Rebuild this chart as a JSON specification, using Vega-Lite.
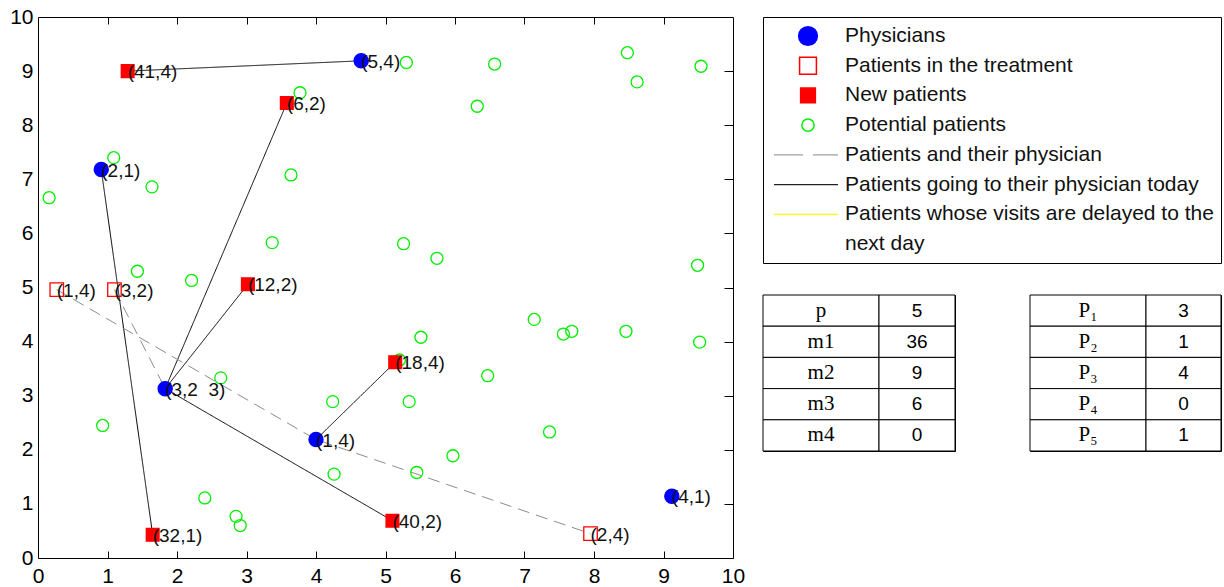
{
  "$schema": "https://vega.github.io/schema/vega-lite/v6.json",
  "padding": {"left": 9, "top": 5, "right": 0, "bottom": 0},
  "background": "white",
  "config": {
    "view": {"stroke": "black", "strokeWidth": 1},
    "font": "Liberation Sans",
    "text": {"font": "Liberation Sans", "color": "black"}
  },
  "datasets": {
    "links": [
      {"seg": "a", "kind": "today", "x": 1.29, "y": 9.00}, {"seg": "a", "kind": "today", "x": 4.65, "y": 9.19},
      {"seg": "b", "kind": "today", "x": 3.58, "y": 8.41}, {"seg": "b", "kind": "today", "x": 1.83, "y": 3.13},
      {"seg": "c", "kind": "today", "x": 3.02, "y": 5.06}, {"seg": "c", "kind": "today", "x": 1.83, "y": 3.13},
      {"seg": "d", "kind": "today", "x": 5.10, "y": 0.69}, {"seg": "d", "kind": "today", "x": 1.83, "y": 3.13},
      {"seg": "e", "kind": "today", "x": 5.14, "y": 3.62}, {"seg": "e", "kind": "today", "x": 4.00, "y": 2.19},
      {"seg": "f", "kind": "today", "x": 1.65, "y": 0.43}, {"seg": "f", "kind": "today", "x": 0.91, "y": 7.18},
      {"seg": "g", "kind": "home", "x": 0.27, "y": 4.96}, {"seg": "g", "kind": "home", "x": 4.00, "y": 2.19}, {"seg": "g", "kind": "home", "x": 7.95, "y": 0.45},
      {"seg": "h", "kind": "home", "x": 1.10, "y": 4.96}, {"seg": "h", "kind": "home", "x": 1.83, "y": 3.13}
    ],
    "pts": [
      {"group": "Potential", "x": 1.09, "y": 7.40}, {"group": "Potential", "x": 0.16, "y": 6.66},
      {"group": "Potential", "x": 1.64, "y": 6.86}, {"group": "Potential", "x": 3.77, "y": 8.60},
      {"group": "Potential", "x": 3.64, "y": 7.08}, {"group": "Potential", "x": 3.37, "y": 5.83},
      {"group": "Potential", "x": 5.26, "y": 5.81}, {"group": "Potential", "x": 5.30, "y": 9.16},
      {"group": "Potential", "x": 1.43, "y": 5.30}, {"group": "Potential", "x": 2.21, "y": 5.13},
      {"group": "Potential", "x": 6.57, "y": 9.13}, {"group": "Potential", "x": 6.32, "y": 8.35},
      {"group": "Potential", "x": 8.48, "y": 9.34}, {"group": "Potential", "x": 8.62, "y": 8.80},
      {"group": "Potential", "x": 9.54, "y": 9.09}, {"group": "Potential", "x": 5.74, "y": 5.54},
      {"group": "Potential", "x": 9.49, "y": 5.41}, {"group": "Potential", "x": 5.51, "y": 4.08},
      {"group": "Potential", "x": 2.63, "y": 3.33}, {"group": "Potential", "x": 5.20, "y": 3.66},
      {"group": "Potential", "x": 4.24, "y": 2.89}, {"group": "Potential", "x": 5.34, "y": 2.89},
      {"group": "Potential", "x": 0.93, "y": 2.45}, {"group": "Potential", "x": 4.26, "y": 1.55},
      {"group": "Potential", "x": 5.45, "y": 1.58}, {"group": "Potential", "x": 2.40, "y": 1.11},
      {"group": "Potential", "x": 2.85, "y": 0.77}, {"group": "Potential", "x": 2.91, "y": 0.60},
      {"group": "Potential", "x": 7.14, "y": 4.41}, {"group": "Potential", "x": 7.56, "y": 4.14},
      {"group": "Potential", "x": 7.68, "y": 4.19}, {"group": "Potential", "x": 8.46, "y": 4.19},
      {"group": "Potential", "x": 9.52, "y": 3.99}, {"group": "Potential", "x": 6.47, "y": 3.37},
      {"group": "Potential", "x": 7.36, "y": 2.33}, {"group": "Potential", "x": 5.97, "y": 1.89},
      {"group": "Treatment", "x": 0.27, "y": 4.96, "label": "(1,4)"},
      {"group": "Treatment", "x": 1.10, "y": 4.96, "label": "(3,2)"},
      {"group": "Treatment", "x": 7.95, "y": 0.45, "label": "(2,4)"},
      {"group": "New", "x": 1.29, "y": 9.00, "label": "(41,4)"},
      {"group": "New", "x": 3.58, "y": 8.41, "label": "(6,2)"},
      {"group": "New", "x": 3.02, "y": 5.06, "label": "(12,2)"},
      {"group": "New", "x": 5.14, "y": 3.62, "label": "(18,4)"},
      {"group": "New", "x": 5.10, "y": 0.69, "label": "(40,2)"},
      {"group": "New", "x": 1.65, "y": 0.43, "label": "(32,1)"},
      {"group": "Physicians", "x": 4.65, "y": 9.19, "label": "(5,4)"},
      {"group": "Physicians", "x": 0.91, "y": 7.18, "label": "(2,1)"},
      {"group": "Physicians", "x": 1.83, "y": 3.13, "label": "(3,2\u00a0\u00a03)"},
      {"group": "Physicians", "x": 4.00, "y": 2.19, "label": "(1,4)"},
      {"group": "Physicians", "x": 9.12, "y": 1.14, "label": "(4,1)"}
    ],
    "legend": [
      {"row": 0, "kind": "Physicians", "label": "Physicians"},
      {"row": 1, "kind": "Treatment", "label": "Patients in the treatment"},
      {"row": 2, "kind": "New", "label": "New patients"},
      {"row": 3, "kind": "Potential", "label": "Potential patients"},
      {"row": 4, "kind": "home", "label": "Patients and their physician"},
      {"row": 5, "kind": "today", "label": "Patients going to their physician today"},
      {"row": 6, "kind": "delayed", "label": "Patients whose visits are delayed to the"},
      {"row": 7, "kind": "none", "label": "next day"}
    ],
    "tbl": [
      {"r": 1, "a": "p", "av": "5", "b": "P₁", "bv": "3"},
      {"r": 2, "a": "m1", "av": "36", "b": "P₂", "bv": "1"},
      {"r": 3, "a": "m2", "av": "9", "b": "P₃", "bv": "4"},
      {"r": 4, "a": "m3", "av": "6", "b": "P₄", "bv": "0"},
      {"r": 5, "a": "m4", "av": "0", "b": "P₅", "bv": "1"}
    ]
  },
  "hconcat": [
    {
      "width": 695,
      "height": 541,
      "layer": [
        {
          "data": {"name": "links"},
          "mark": {"type": "line", "strokeWidth": 1},
          "encoding": {
            "x": {"field": "x", "type": "quantitative", "scale": {"domain": [0, 10], "nice": false, "zero": false},
              "axis": {"orient": "bottom", "values": [0, 1, 2, 3, 4, 5, 6, 7, 8, 9, 10], "title": null, "grid": false, "domain": false, "ticks": true, "tickSize": -7, "tickColor": "black", "tickWidth": 1, "labelPadding": 14, "labelFont": "Liberation Sans", "labelFontSize": 21, "labelColor": "black", "labelFlush": false, "labelOverlap": false}},
            "y": {"field": "y", "type": "quantitative", "scale": {"domain": [0, 10], "nice": false, "zero": false},
              "axis": {"orient": "left", "values": [0, 1, 2, 3, 4, 5, 6, 7, 8, 9, 10], "title": null, "grid": false, "domain": false, "ticks": false, "labelPadding": 5, "labelFont": "Liberation Sans", "labelFontSize": 21, "labelColor": "black", "labelOverlap": false}},
            "detail": {"field": "seg"},
            "color": {"field": "kind", "type": "nominal", "scale": {"domain": ["home", "today"], "range": ["#8c8c8c", "black"]}, "legend": null},
            "strokeDash": {"field": "kind", "type": "nominal", "scale": {"domain": ["home", "today"], "range": [[12, 7], [1, 0]]}, "legend": null}
          }
        },
        {
          "data": {"name": "pts"},
          "mark": {"type": "point", "opacity": 1, "strokeWidth": 1.3},
          "encoding": {
            "x": {"field": "x", "type": "quantitative",
              "axis": {"orient": "top", "values": [1, 2, 3, 4, 5, 6, 7, 8, 9], "title": null, "grid": false, "domain": false, "labels": false, "tickSize": -7, "tickColor": "black"}},
            "y": {"field": "y", "type": "quantitative",
              "axis": {"orient": "right", "values": [1, 2, 3, 4, 5, 6, 7, 8, 9], "title": null, "grid": false, "domain": false, "labels": false, "tickSize": -9, "tickColor": "black"}},
            "shape": {"field": "group", "type": "nominal", "scale": {"domain": ["Physicians", "Treatment", "New", "Potential"], "range": ["circle", "square", "square", "circle"]}, "legend": null},
            "fill": {"field": "group", "type": "nominal", "scale": {"domain": ["Physicians", "Treatment", "New", "Potential"], "range": ["#0000ff", "transparent", "#ff0000", "transparent"]}, "legend": null},
            "stroke": {"field": "group", "type": "nominal", "scale": {"domain": ["Physicians", "Treatment", "New", "Potential"], "range": ["#0000ff", "#ff0000", "#ff0000", "#00ee00"]}, "legend": null},
            "size": {"field": "group", "type": "nominal", "scale": {"domain": ["Physicians", "Treatment", "New", "Potential"], "range": [200, 144, 160, 120]}, "legend": null}
          }
        },
        {
          "data": {"name": "pts"},
          "transform": [{"filter": "isValid(datum.label)"}],
          "mark": {"type": "text", "align": "left", "baseline": "middle", "dy": 1, "font": "Liberation Sans", "fontSize": 19, "color": "#111111"},
          "encoding": {
            "x": {"field": "x", "type": "quantitative", "axis": null},
            "y": {"field": "y", "type": "quantitative", "axis": null},
            "text": {"field": "label"}
          }
        }
      ],
      "resolve": {"axis": {"x": "independent", "y": "independent"}}
    },
    {
      "vconcat": [
        {
          "width": 458,
          "height": 246,
          "data": {"name": "legend"},
          "encoding": {"y": {"field": "row", "type": "ordinal", "scale": {"type": "point", "padding": 0.64}, "axis": null}},
          "layer": [
            {
              "transform": [{"filter": "indexof(['Physicians','Treatment','New','Potential'], datum.kind) >= 0"}],
              "mark": {"type": "point", "opacity": 1, "strokeWidth": 1.5, "x": 45},
              "encoding": {
                "shape": {"field": "kind", "type": "nominal", "scale": {"domain": ["Physicians", "Treatment", "New", "Potential"], "range": ["circle", "square", "square", "circle"]}, "legend": null},
                "fill": {"field": "kind", "type": "nominal", "scale": {"domain": ["Physicians", "Treatment", "New", "Potential"], "range": ["#0000ff", "transparent", "#ff0000", "transparent"]}, "legend": null},
                "stroke": {"field": "kind", "type": "nominal", "scale": {"domain": ["Physicians", "Treatment", "New", "Potential"], "range": ["#0000ff", "#ff0000", "#ff0000", "#00ee00"]}, "legend": null},
                "size": {"field": "kind", "type": "nominal", "scale": {"domain": ["Physicians", "Treatment", "New", "Potential"], "range": [350, 150, 196, 130]}, "legend": null}
              }
            },
            {
              "transform": [{"filter": "indexof(['home','today','delayed'], datum.kind) >= 0"}],
              "mark": {"type": "rule", "x": 11, "x2": 75, "strokeWidth": 1.2},
              "encoding": {
                "color": {"field": "kind", "type": "nominal", "scale": {"domain": ["home", "today", "delayed"], "range": ["#a0a0a0", "#222222", "#ffff00"]}, "legend": null},
                "strokeDash": {"field": "kind", "type": "nominal", "scale": {"domain": ["home", "today", "delayed"], "range": [[29, 10], [1, 0], [1, 0]]}, "legend": null}
              }
            },
            {
              "mark": {"type": "text", "x": 82, "align": "left", "baseline": "middle", "font": "Liberation Sans", "fontSize": 21, "color": "#111111"},
              "encoding": {"text": {"field": "label"}}
            }
          ]
        },
        {
          "hconcat": [
            {
              "hconcat": [
                {
                  "width": 116, "height": 156,
                  "data": {"name": "tbl"},
                  "encoding": {"y": {"field": "r", "type": "ordinal", "axis": null, "scale": {"paddingInner": 0, "paddingOuter": 0}}},
                  "layer": [
                    {"mark": {"type": "rect", "fill": "white", "stroke": "black", "strokeWidth": 1}},
                    {"mark": {"type": "text", "font": "Liberation Serif", "fontSize": 21, "baseline": "middle"}, "encoding": {"text": {"field": "a"}}}
                  ]
                },
                {
                  "width": 76, "height": 156,
                  "data": {"name": "tbl"},
                  "encoding": {"y": {"field": "r", "type": "ordinal", "axis": null, "scale": {"paddingInner": 0, "paddingOuter": 0}}},
                  "layer": [
                    {"mark": {"type": "rect", "fill": "white", "stroke": "black", "strokeWidth": 1}},
                    {"mark": {"type": "text", "font": "Liberation Sans", "fontSize": 19, "baseline": "middle"}, "encoding": {"text": {"field": "av"}}}
                  ]
                }
              ],
              "spacing": 0,
              "bounds": "flush"
            },
            {
              "hconcat": [
                {
                  "width": 116, "height": 156,
                  "data": {"name": "tbl"},
                  "encoding": {"y": {"field": "r", "type": "ordinal", "axis": null, "scale": {"paddingInner": 0, "paddingOuter": 0}}},
                  "layer": [
                    {"mark": {"type": "rect", "fill": "white", "stroke": "black", "strokeWidth": 1}},
                    {"mark": {"type": "text", "font": "Liberation Serif", "fontSize": 21, "baseline": "middle"}, "encoding": {"text": {"field": "b"}}}
                  ]
                },
                {
                  "width": 75, "height": 156,
                  "data": {"name": "tbl"},
                  "encoding": {"y": {"field": "r", "type": "ordinal", "axis": null, "scale": {"paddingInner": 0, "paddingOuter": 0}}},
                  "layer": [
                    {"mark": {"type": "rect", "fill": "white", "stroke": "black", "strokeWidth": 1}},
                    {"mark": {"type": "text", "font": "Liberation Sans", "fontSize": 19, "baseline": "middle"}, "encoding": {"text": {"field": "bv"}}}
                  ]
                }
              ],
              "spacing": 0,
              "bounds": "flush"
            }
          ],
          "spacing": 73,
          "bounds": "full"
        }
      ],
      "spacing": 32,
      "bounds": "flush"
    }
  ],
  "spacing": 30,
  "bounds": "flush",
  "resolve": {"scale": {"color": "independent", "strokeDash": "independent", "shape": "independent", "fill": "independent", "stroke": "independent", "size": "independent"}}
}
